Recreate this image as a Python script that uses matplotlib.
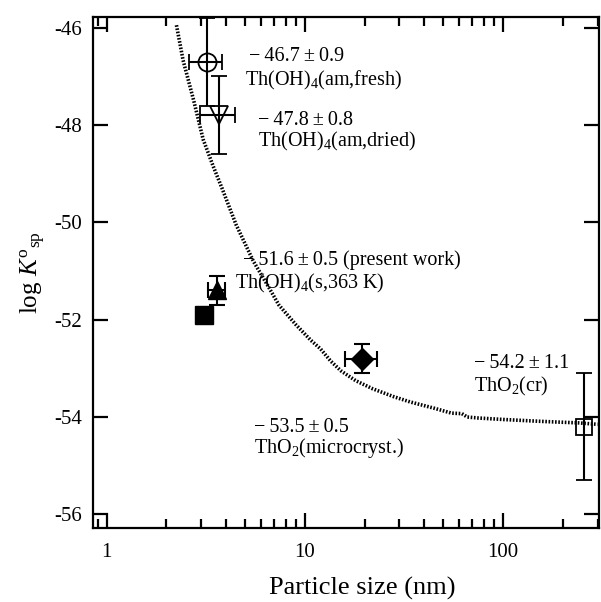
import matplotlib
matplotlib.use("Agg")
import matplotlib.pyplot as plt

plt.rcParams['font.family'] = ['Liberation Serif', 'DejaVu Serif']
plt.rcParams['mathtext.fontset'] = 'custom'
plt.rcParams['mathtext.rm'] = 'Liberation Serif'
plt.rcParams['mathtext.it'] = 'Liberation Serif:italic'
plt.rcParams['axes.unicode_minus'] = False

# literature and present-work solubility products
fresh_x, fresh_y, fresh_xe, fresh_ye = 3.2, -46.7, 0.6, 0.9
dried_x, dried_y, dried_xe, dried_ye = 3.7, -47.8, 0.75, 0.8
s363_x, s363_y, s363_xe, s363_ye = 3.6, -51.4, 0.35, 0.3
sq_x, sq_y = 3.1, -51.9
micro_x, micro_y, micro_xe, micro_ye = 19.5, -52.8, 3.5, 0.3
cr_x, cr_y, cr_ye = 255, -54.2, 1.1

# size-dependence curve
curve_x = [2.25, 2.43, 2.75, 3.07, 3.45, 3.82, 4.5, 5.5, 6.5, 7.4, 9.0, 10.7,
           12.0, 13.5, 15.2, 18, 22, 28, 34, 45, 55, 62, 66, 75, 100, 140,
           180, 240, 300]
curve_y = [-45.95, -46.67, -47.5, -48.3, -48.85, -49.3, -50.05, -50.8, -51.3,
           -51.7, -52.1, -52.42, -52.6, -52.85, -53.05, -53.25, -53.42,
           -53.58, -53.69, -53.82, -53.92, -53.93, -54.0, -54.02, -54.05,
           -54.08, -54.1, -54.12, -54.15]

labels = [
    (5.2, -46.6, "\u2212\u200946.7\u2009\u00b1\u20090.9"),
    (5.0, -47.08, r"Th(OH)$_4$(am,fresh)"),
    (5.77, -47.9, "\u2212\u200947.8\u2009\u00b1\u20090.8"),
    (5.77, -48.33, r"Th(OH)$_4$(am,dried)"),
    (4.9, -50.77, "\u2212\u200951.6\u2009\u00b1\u20090.5 (present work)"),
    (4.46, -51.25, r"Th(OH)$_4$(s,363 K)"),
    (5.52, -54.22, "\u2212\u200953.5\u2009\u00b1\u20090.5"),
    (5.52, -54.63, r"ThO$_2$(microcryst.)"),
    (71, -52.89, "\u2212\u200954.2\u2009\u00b1\u20091.1"),
    (71, -53.38, r"ThO$_2$(cr)"),
]

fig = plt.figure(figsize=(6.01, 6.02), dpi=100)
ax = fig.add_axes([0.1547, 0.1229, 0.842, 0.849])

ax.plot(curve_x, curve_y, color='black', lw=2.6, linestyle=(0, (0.45, 0.45)))

eb = dict(color='black', elinewidth=1.5, capsize=6, capthick=1.5, ls='none')
ax.errorbar(fresh_x, fresh_y, xerr=fresh_xe, yerr=fresh_ye, marker='o', ms=13,
            mfc='none', mec='black', mew=1.3, **eb)
ax.errorbar(dried_x, dried_y, xerr=dried_xe, yerr=dried_ye, marker='v', ms=13,
            mfc='none', mec='black', mew=1.3, **eb)
ax.errorbar(s363_x, s363_y, xerr=s363_xe, yerr=s363_ye, marker='^', ms=13.5,
            mfc='black', mec='black', **eb)
ax.plot(sq_x, sq_y, marker='s', ms=13, color='black', ls='none')
ax.errorbar(micro_x, micro_y, xerr=micro_xe, yerr=micro_ye, marker='D', ms=11.5,
            mfc='black', mec='black', **eb)
ax.errorbar(cr_x, cr_y, yerr=cr_ye, marker='s', ms=12,
            mfc='none', mec='black', mew=1.3, **eb)

for x, y, s in labels:
    ax.text(x, y, s, fontsize=14.5, va='center')

ax.set_xscale('log')
ax.set_xlim(0.853, 305)
ax.set_ylim(-56.28, -45.78)
ax.set_yticks([-56, -54, -52, -50, -48, -46])
ax.set_xticks([1, 10, 100])
ax.set_xticklabels(['1', '10', '100'])

for s in ax.spines.values():
    s.set_linewidth(1.6)
ax.tick_params(which='both', direction='in', top=True, right=True, width=1.6,
               labelsize=15)
ax.tick_params(which='major', length=10.5)
ax.tick_params(axis='x', which='major', pad=11)
ax.tick_params(axis='y', which='major', pad=8)
ax.tick_params(which='minor', length=6.5)

ax.set_xlabel('Particle size (nm)', fontsize=19, va='center')
ax.xaxis.set_label_coords(0.532, -0.118)
ax.set_ylabel(r"log $K^{\rm o}{}_{\rm sp}$", fontsize=18, labelpad=4)

fig.savefig('out.png', dpi=100)
